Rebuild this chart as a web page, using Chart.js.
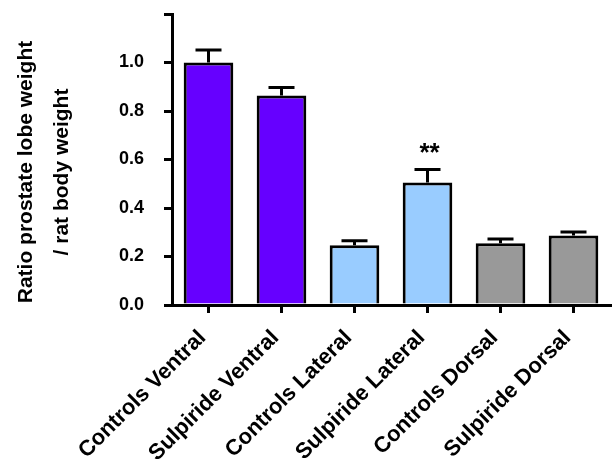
<!DOCTYPE html>
<html>
<head>
<meta charset="utf-8">
<script src="https://cdn.jsdelivr.net/npm/chart.js@4.4.1/dist/chart.umd.min.js"></script>
<style>
  html, body { margin: 0; padding: 0; background: #fff; }
  canvas { display: block; }
</style>
</head>
<body>
<canvas id="barChart" width="613" height="464"></canvas>
<script>
// values
var categories = ['Controls Ventral', 'Sulpiride Ventral', 'Controls Lateral', 'Sulpiride Lateral', 'Controls Dorsal', 'Sulpiride Dorsal'];
var means = [1.0, 0.864, 0.246, 0.505, 0.255, 0.287];
var sems = [0.052, 0.033, 0.019, 0.054, 0.017, 0.014];
var stars = ['', '', '', '**', '', ''];
var yTitleLines = ['Ratio prostate lobe weight', '/ rat body weight'];

var barColors = ['#6600ff', '#6600ff', '#99ccff', '#99ccff', '#999999', '#999999'];
var fontFamily = '"Liberation Sans", Arial, sans-serif';

// error bars (upper half only) + significance stars
var errorBars = {
  id: 'errorBars',
  afterDatasetsDraw: function(chart) {
    var ctx = chart.ctx;
    var y = chart.scales.y;
    var bars = chart.getDatasetMeta(0).data;
    ctx.save();
    ctx.strokeStyle = '#000';
    ctx.lineWidth = 3;
    for (var i = 0; i < bars.length; i++) {
      var x = bars[i].x;
      var top = y.getPixelForValue(means[i]);
      var cap = y.getPixelForValue(means[i] + sems[i]);
      ctx.beginPath();
      ctx.moveTo(x, top);
      ctx.lineTo(x, cap);
      ctx.moveTo(x - 13, cap);
      ctx.lineTo(x + 13, cap);
      ctx.stroke();
      if (stars[i]) {
        ctx.fillStyle = '#000';
        ctx.font = 'bold 26px ' + fontFamily;
        ctx.textAlign = 'center';
        ctx.textBaseline = 'alphabetic';
        ctx.fillText(stars[i], x + 2, cap - 8);
      }
    }
    ctx.restore();
  }
};

var yTitle = {
  id: 'yTitle',
  afterDraw: function(chart) {
    var ctx = chart.ctx;
    ctx.save();
    ctx.fillStyle = '#000';
    ctx.font = 'bold 21px ' + fontFamily;
    ctx.textAlign = 'center';
    ctx.textBaseline = 'middle';
    for (var i = 0; i < yTitleLines.length; i++) {
      ctx.save();
      ctx.translate(26 + i * 36, 172);
      ctx.rotate(-Math.PI / 2);
      ctx.fillText(yTitleLines[i], 0, 0);
      ctx.restore();
    }
    ctx.restore();
  }
};

function drawChart() {
  var canvas = document.getElementById('barChart').getContext('2d');
  new Chart(canvas, {
    type: 'bar',
    data: {
      labels: categories,
      datasets: [{
        data: means,
        backgroundColor: barColors,
        borderColor: '#000',
        borderWidth: 3,
        borderSkipped: 'bottom',
        barPercentage: 0.68,
        categoryPercentage: 1.0
      }]
    },
    options: {
      responsive: false,
      animation: false,
      devicePixelRatio: 1,
      layout: { padding: { top: 14, right: 3, left: 0, bottom: 0 } },
      plugins: {
        legend: { display: false },
        tooltip: { enabled: false }
      },
      scales: {
        x: {
          afterFit: function(scale) {
            scale.height = 159;
            scale.paddingLeft = 0;
            scale.paddingRight = 0;
          },
          border: { display: true, color: '#000', width: 3 },
          grid: {
            display: true,
            offset: false,
            drawOnChartArea: false,
            color: '#000',
            lineWidth: 3,
            tickLength: 8
          },
          ticks: {
            autoSkip: false,
            minRotation: 45,
            maxRotation: 45,
            padding: 12,
            labelOffset: -6,
            color: '#000',
            font: { family: fontFamily, size: 22, weight: 'bold' }
          }
        },
        y: {
          min: 0,
          max: 1.2,
          afterFit: function(scale) {
            scale.width = 172;
            scale.paddingTop = 0;
            scale.paddingBottom = 0;
          },
          border: { display: true, color: '#000', width: 3 },
          grid: {
            display: true,
            drawOnChartArea: false,
            color: '#000',
            lineWidth: 3,
            tickLength: 8
          },
          ticks: {
            stepSize: 0.2,
            padding: 20,
            color: '#000',
            font: { family: fontFamily, size: 18, weight: 'bold' },
            callback: function(v) { return v > 1.01 ? '' : v.toFixed(1); }
          }
        }
      }
    },
    plugins: [errorBars, yTitle]
  });
}

drawChart();
</script>
</body>
</html>
